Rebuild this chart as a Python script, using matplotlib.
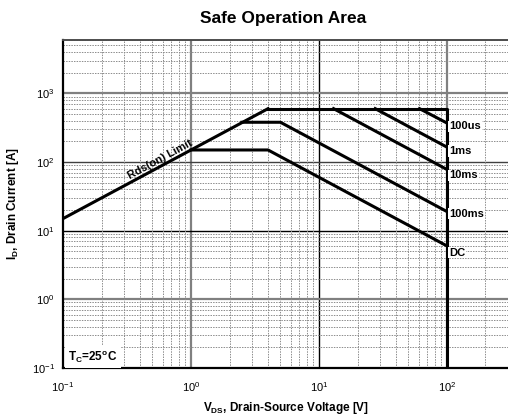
import numpy as np
import matplotlib
matplotlib.use("Agg")
import matplotlib.pyplot as plt
from matplotlib.ticker import LogLocator, NullFormatter

plt.rcParams['font.family'] = ['Liberation Sans', 'DejaVu Sans']
plt.rcParams['mathtext.fontset'] = 'custom'
plt.rcParams['mathtext.rm'] = 'Liberation Sans'
plt.rcParams['mathtext.bf'] = 'Liberation Sans:bold'
plt.rcParams['mathtext.it'] = 'Liberation Sans:italic'

# data
rds_v = [0.1, 4]
rds_i = [15, 600]

limit_v = [4, 100, 100]
limit_i = [600, 600, 0.1]

curves = {
    "100us": ([61, 100], [600, 370]),
    "1ms": ([27.5, 100], [600, 165]),
    "10ms": ([13, 100], [600, 78]),
    "100ms": ([2.5, 5, 100], [380, 380, 19]),
    "DC": ([1, 4, 100], [150, 150, 6]),
}
label_y = {"100us": 331, "1ms": 145, "10ms": 64, "100ms": 17.7, "DC": 4.8}

fig = plt.figure(figsize=(5.08, 4.2), dpi=100)
ax = fig.add_axes([63/508, 52/420, (518-63)/508, (368-40)/420])
ax.set_xscale('log')
ax.set_yscale('log')
ax.set_xlim(0.1, 10**2.555)
ax.set_ylim(0.1, 6000)

# grid
ax.xaxis.set_minor_locator(LogLocator(base=10, subs=np.arange(2, 10)))
ax.yaxis.set_minor_locator(LogLocator(base=10, subs=np.arange(2, 10)))
ax.xaxis.set_minor_formatter(NullFormatter())
ax.yaxis.set_minor_formatter(NullFormatter())
ax.grid(True, which='minor', color='0.55', linestyle=(0, (1.5, 1.2)), linewidth=0.7)
for v, c, w in [(1, '0.5', 1.6), (10, 'black', 1.0), (100, '0.5', 1.6)]:
    ax.axvline(v, color=c, lw=w, zorder=1)
for v, c, w in [(1, '0.5', 1.6), (10, 'black', 1.0), (100, '0.25', 1.0), (1000, '0.5', 1.6)]:
    ax.axhline(v, color=c, lw=w, zorder=1)

ax.plot(rds_v, rds_i, color='black', lw=2.2, zorder=3)
ax.plot(limit_v, limit_i, color='black', lw=2.2, zorder=3)
for name, (v, i) in curves.items():
    ax.plot(v, i, color='black', lw=2.2, zorder=3)
    ax.text(104, label_y[name], name, fontsize=8, fontweight='bold', ha='left', va='center',
            bbox=dict(facecolor='white', edgecolor='none', pad=0.6), zorder=4)

ax.text(0.57, 110, "Rds(on) Limit", fontsize=8, fontweight='bold', rotation=28.5,
        ha='center', va='center', zorder=4)
ax.text(0.11, 0.145, r"T$_\mathbf{C}$=25$^\mathbf{o}$C", fontsize=8.5, fontweight='bold',
        ha='left', va='center',
        bbox=dict(facecolor='white', edgecolor='none', pad=2.5), zorder=4)

ax.set_xticks([0.1, 1, 10, 100])
ax.set_yticks([0.1, 1, 10, 100, 1000])
ax.tick_params(which='both', length=0, labelsize=8)
ax.tick_params(axis='x', pad=9)
ax.tick_params(axis='y', pad=6)

ax.spines['right'].set_visible(False)
ax.spines['left'].set_linewidth(1.6)
ax.spines['bottom'].set_linewidth(1.6)
ax.spines['top'].set_color('0.3')
ax.spines['top'].set_linewidth(1.4)

fig.text(283/508, 1 - 18/420, "Safe Operation Area", fontsize=12.5, fontweight='bold',
         ha='center', va='center')
fig.text(286/508, 1 - 408/420, r"V$_\mathbf{DS}$, Drain-Source Voltage [V]", fontsize=8.5,
         fontweight='bold', ha='center', va='center')
fig.text(13/508, 1 - 204/420, r"I$_\mathbf{D}$, Drain Current [A]", fontsize=8.5,
         fontweight='bold', ha='center', va='center', rotation=90)

fig.savefig("out.png", dpi=100)
